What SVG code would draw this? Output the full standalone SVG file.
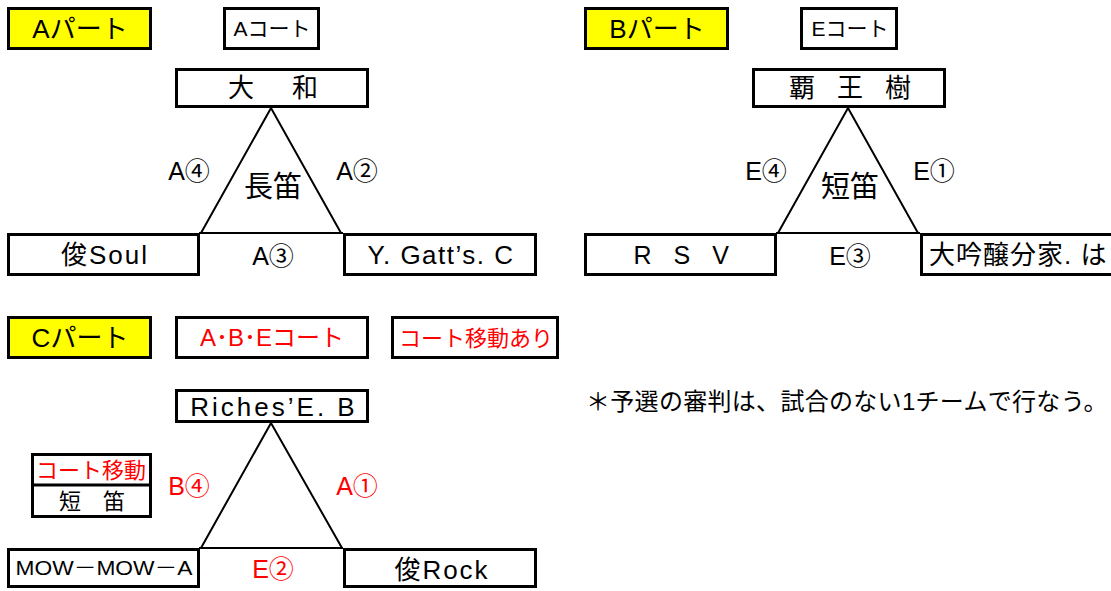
<svg xmlns="http://www.w3.org/2000/svg" width="1111" height="591" viewBox="0 0 1111 591">
<style>
text{font-family:"Liberation Sans","Noto Sans CJK JP",sans-serif;fill:#000;text-anchor:middle}
.box{fill:#fff;stroke:#000;stroke-width:3}
.part{fill:#ffff00;stroke:#000;stroke-width:3}
.ln{fill:none;stroke:#000;stroke-width:2}
.red{fill:#ff0000}
.t26{font-size:26px}
.t24{font-size:24px}
.t25{font-size:25px}
.t22{font-size:22px}
.t21{font-size:21px}
.t20{font-size:20px}
.t29{font-size:29px}
</style>
<rect width="1111" height="591" fill="#fff"/>
<g id="connectors">
<polyline class="ln" points="201,233 271,108 341,233"/>
<line class="ln" x1="199" y1="233" x2="343" y2="233"/>
<polyline class="ln" points="778,233 848,108 918,233"/>
<line class="ln" x1="776" y1="233" x2="920" y2="233"/>
<polyline class="ln" points="201,548 271,423 342,548"/>
<line class="ln" x1="199" y1="548" x2="343" y2="548"/>
</g>
<g id="partA"><rect class="part" x="8.5" y="8.5" width="142" height="40"/><text class="t26" x="80" y="38">Aパート</text></g>
<g id="courtA"><rect class="box" x="224.5" y="8.5" width="94" height="40"/><text class="t21" x="272" y="36">Aコート</text></g>
<g id="yamato"><rect class="box" x="176.5" y="69.5" width="191" height="37"/><text class="t26" x="276" y="97" letter-spacing="6">大　和</text></g>
<g id="shunsoul"><rect class="box" x="8.5" y="234.5" width="190" height="40"/><text class="t26" x="105" y="264" letter-spacing="2">俊Soul</text></g>
<g id="ygatts"><rect class="box" x="344.5" y="234.5" width="191" height="40"/><text class="t26" x="441" y="264" letter-spacing="1.5">Y. Gatt’s. C</text></g>
<g id="labelsA">
<text class="t25" x="189" y="180">A④</text>
<text class="t25" x="357" y="180">A②</text>
<text class="t29" x="273" y="197">長笛</text>
<text class="t25" x="273" y="265">A③</text>
</g>
<g id="partB"><rect class="part" x="585.5" y="8.5" width="142" height="40"/><text class="t26" x="657" y="38">Bパート</text></g>
<g id="courtE"><rect class="box" x="801.5" y="8.5" width="95" height="40"/><text class="t21" x="850" y="36">Eコート</text></g>
<g id="haoju"><rect class="box" x="753.5" y="69.5" width="191" height="37"/><text class="t26" x="849" y="97" letter-spacing="-2">覇　王　樹</text></g>
<g id="rsv"><rect class="box" x="585.5" y="234.5" width="190" height="40"/><text class="t25" x="685" y="264" letter-spacing="7.5">R S V</text></g>
<g id="daiginjo"><rect class="box" x="921.5" y="234.5" width="200" height="40"/><text class="t26" x="929" y="264" letter-spacing="1" style="text-anchor:start">大吟醸分家. は</text></g>
<g id="labelsB">
<text class="t25" x="766" y="180">E④</text>
<text class="t25" x="934" y="180">E①</text>
<text class="t29" x="850" y="197">短笛</text>
<text class="t25" x="850" y="265">E③</text>
</g>
<g id="partC"><rect class="part" x="8.5" y="317.5" width="142" height="40"/><text class="t26" x="80" y="347">Cパート</text></g>
<g id="courtABE"><rect class="box" x="176.5" y="317.5" width="191" height="40"/><text class="t24 red" x="272" y="345.5">A･B･Eコート</text></g>
<g id="courtMove"><rect class="box" x="392.5" y="317.5" width="165" height="40"/><text class="t22 red" x="476" y="345.5">コート移動あり</text></g>
<g id="riches"><rect class="box" x="176.5" y="390.5" width="191" height="31"/><text class="t26" x="274" y="415.5" letter-spacing="3">Riches’E. B</text></g>
<g id="sideC"><rect class="box" x="32.5" y="454.5" width="118" height="62"/><line x1="32.5" y1="485" x2="150.5" y2="485" stroke="#000" stroke-width="3"/><text class="t22 red" x="91" y="478">コート移動</text><text class="t22" x="92" y="509">短　笛</text></g>
<g id="mowmow"><rect class="box" x="8.5" y="549.5" width="190" height="37"/><text class="t20" x="104" y="575" textLength="177" lengthAdjust="spacingAndGlyphs">MOW－MOW－A</text></g>
<g id="shunrock"><rect class="box" x="344.5" y="549.5" width="191" height="37"/><text class="t26" x="442" y="579" letter-spacing="2">俊Rock</text></g>
<g id="labelsC">
<text class="t25 red" x="189" y="495">B④</text>
<text class="t25 red" x="357" y="495">A①</text>
<text class="t25 red" x="273" y="578">E②</text>
</g>
<g id="note"><text class="t24" x="586" y="410" letter-spacing="0.3" style="text-anchor:start">＊予選の審判は、試合のない1チームで行なう。</text></g>
</svg>
